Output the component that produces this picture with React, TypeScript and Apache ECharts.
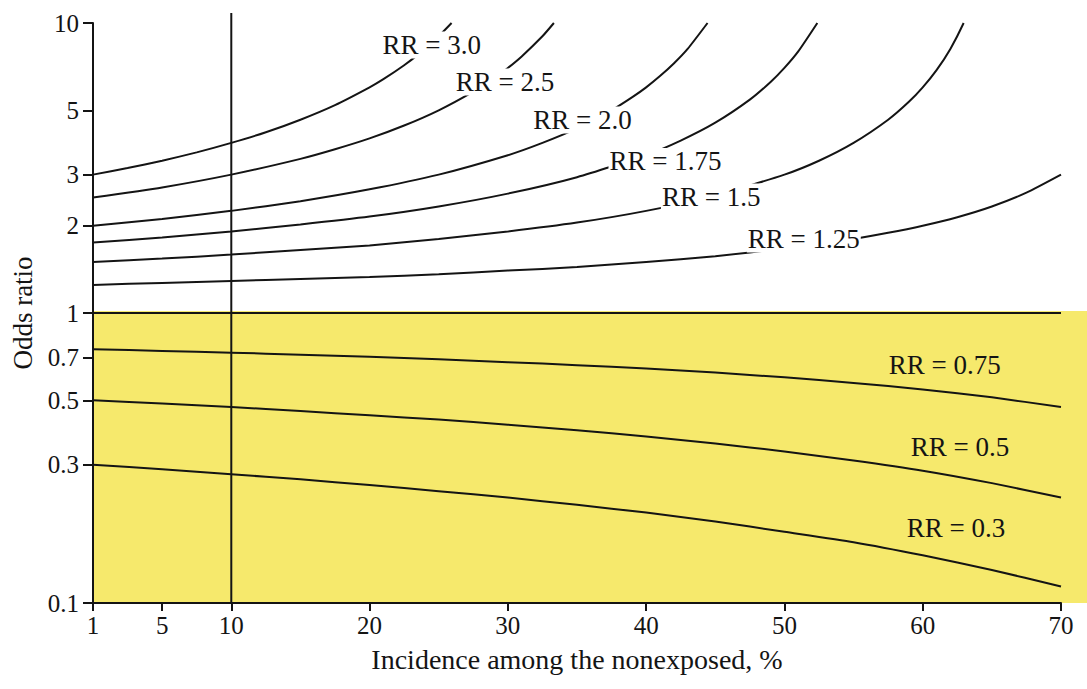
import React, { useEffect, useRef } from 'react';
import * as echarts from 'echarts';

// Axis ticks
const xTickValues = [0, 5, 10, 20, 30, 40, 50, 60, 70];
const xTickLabels = ['1', '5', '10', '20', '30', '40', '50', '60', '70'];
const yTickValues = [0.1, 0.3, 0.5, 0.7, 1, 2, 3, 5, 10];

// Curves (incidence %, odds ratio)
const rr300X = [0, 2.5, 5, 7.5, 10, 12.5, 15, 17.5, 20, 21, 22.5, 23.5, 24.5, 25, 25.93];
const rr300Y = [3.0, 3.16, 3.35, 3.58, 3.86, 4.2, 4.64, 5.21, 6.0, 6.4, 7.15, 7.78, 8.55, 9.0, 10];

const rr250X = [0, 5, 10, 15, 17.5, 20, 22.5, 25, 27.5, 29, 30, 31, 32.5, 33.33];
const rr250Y = [2.5, 2.71, 3.0, 3.4, 3.67, 4.0, 4.43, 5.0, 5.8, 6.46, 7.0, 7.67, 9.0, 10];

const rr200X = [0, 5, 10, 15, 20, 25, 30, 32.5, 35, 37.5, 39, 40, 41, 42, 43, 44.44];
const rr200Y = [2.0, 2.11, 2.25, 2.43, 2.67, 3.0, 3.5, 3.86, 4.33, 5.0, 5.55, 6.0, 6.56, 7.25, 8.14, 10];

const rr175X = [0, 5, 10, 15, 20, 25, 30, 35, 40, 42.5, 45, 47.5, 49, 50, 51, 52.38];
const rr175Y = [1.75, 1.82, 1.91, 2.02, 2.15, 2.33, 2.58, 2.94, 3.5, 3.93, 4.53, 5.44, 6.26, 7.0, 7.98, 10];

const rr150X = [0, 5, 10, 15, 20, 25, 30, 35, 40, 45, 50, 52.5, 55, 57.5, 59, 60, 61, 62, 62.96];
const rr150Y = [1.5, 1.54, 1.59, 1.65, 1.71, 1.8, 1.91, 2.05, 2.25, 2.54, 3.0, 3.35, 3.86, 4.64, 5.35, 6.0, 6.88, 8.14, 10];

const rr125X = [0, 5, 10, 15, 20, 25, 30, 35, 40, 45, 50, 52.5, 55, 57.5, 60, 62.5, 65, 67.5, 70];
const rr125Y = [1.25, 1.27, 1.29, 1.31, 1.33, 1.36, 1.4, 1.44, 1.5, 1.57, 1.67, 1.73, 1.8, 1.89, 2.0, 2.14, 2.33, 2.6, 3.0];

const lowX = [0, 5, 10, 15, 20, 25, 30, 35, 40, 45, 50, 55, 60, 65, 70];
const rr075Y = [0.75, 0.74, 0.73, 0.718, 0.706, 0.692, 0.677, 0.661, 0.643, 0.623, 0.6, 0.574, 0.545, 0.512, 0.474];
const rr050Y = [0.5, 0.487, 0.474, 0.459, 0.444, 0.429, 0.412, 0.394, 0.375, 0.355, 0.333, 0.31, 0.286, 0.259, 0.231];
const rr030Y = [0.3, 0.289, 0.278, 0.267, 0.255, 0.243, 0.231, 0.218, 0.205, 0.191, 0.176, 0.162, 0.146, 0.13, 0.114];

const nullLineX = [0, 70];
const nullLineY = [1, 1];
const refLineX = 10;

// Curve labels
const labelNames = ['RR = 3.0', 'RR = 2.5', 'RR = 2.0', 'RR = 1.75', 'RR = 1.5', 'RR = 1.25', 'RR = 0.75', 'RR = 0.5', 'RR = 0.3'];
const labelX = [24.5, 29.8, 35.4, 41.4, 44.7, 51.4, 61.6, 62.7, 62.4];
const labelY = [8.4, 6.26, 4.63, 3.33, 2.51, 1.8, 0.662, 0.345, 0.181];

const curves = [
  { x: rr300X, y: rr300Y },
  { x: rr250X, y: rr250Y },
  { x: rr200X, y: rr200Y },
  { x: rr175X, y: rr175Y },
  { x: rr150X, y: rr150Y },
  { x: rr125X, y: rr125Y },
  { x: lowX, y: rr075Y },
  { x: lowX, y: rr050Y },
  { x: lowX, y: rr030Y },
  { x: nullLineX, y: nullLineY },
];

export default function App() {
  const ref = useRef<HTMLDivElement>(null);
  useEffect(() => {
    const chart = echarts.init(ref.current!, null, { renderer: 'svg' });
    const font = '"Liberation Serif", "Times New Roman", serif';
    const ink = '#141414';

    const lineSeries = curves.map((c) => ({
      type: 'line',
      data: c.x.map((x, i) => [x, c.y[i]]),
      symbol: 'none',
      showSymbol: false,
      smooth: 0.2,
      silent: true,
      lineStyle: { color: ink, width: 2 },
      z: 3,
    }));

    const option: any = {
      animation: false,
      backgroundColor: '#ffffff',
      grid: { left: 93, right: 26, top: 23, bottom: 86, containLabel: false, outerBoundsMode: 'none' },
      xAxis: {
        type: 'value',
        min: 0,
        max: 70,
        name: 'Incidence among the nonexposed, %',
        nameLocation: 'middle',
        nameGap: 42,
        nameTextStyle: { fontFamily: font, fontSize: 28, color: ink },
        axisLine: { onZero: false, lineStyle: { color: ink, width: 2 } },
        axisTick: { show: true, length: 8, lineStyle: { color: ink, width: 2 }, customValues: xTickValues },
        axisLabel: {
          customValues: xTickValues,
          margin: 10,
          fontFamily: font,
          fontSize: 25,
          color: ink,
          formatter: (v: number) => xTickLabels[xTickValues.indexOf(v)] ?? String(v),
        },
        splitLine: { show: false },
      },
      yAxis: {
        type: 'log',
        logBase: 10,
        min: 0.1,
        max: 10,
        name: 'Odds ratio',
        nameLocation: 'middle',
        nameRotate: 90,
        nameGap: 42,
        nameTextStyle: { fontFamily: font, fontSize: 27, color: ink },
        axisLine: { onZero: false, lineStyle: { color: ink, width: 2 } },
        axisTick: { show: true, length: 10, lineStyle: { color: ink, width: 2 }, customValues: yTickValues },
        axisLabel: {
          customValues: yTickValues,
          margin: 14,
          fontFamily: font,
          fontSize: 25,
          color: ink,
          formatter: (v: number) => String(v),
        },
        splitLine: { show: false },
        minorSplitLine: { show: false },
      },
      series: lineSeries,
    };
    chart.setOption(option);

    const toPx = (x: number, y: number) => chart.convertToPixel({ gridIndex: 0 }, [x, y]) as number[];
    const pOne = toPx(0, 1);
    const pBottom = toPx(refLineX, 0.1);
    const pTop = toPx(refLineX, 10);
    const width = chart.getWidth();

    const labelGraphics = labelNames.map((n, i) => {
      const p = toPx(labelX[i], labelY[i]);
      return {
        type: 'text',
        z: 10,
        silent: true,
        x: p[0],
        y: p[1],
        style: {
          text: n,
          fill: ink,
          font: `27px ${font}`,
          align: 'center',
          verticalAlign: 'middle',
          backgroundColor: labelY[i] > 1 ? '#ffffff' : undefined,
          padding: [0, 1],
        },
      };
    });

    chart.setOption({
      graphic: [
        {
          type: 'rect',
          z: -1,
          silent: true,
          shape: { x: pOne[0], y: pOne[1] - 2, width: width - pOne[0], height: pBottom[1] - pOne[1] + 2 },
          style: { fill: '#F6E96C' },
        },
        {
          type: 'line',
          z: 4,
          silent: true,
          shape: { x1: pBottom[0], y1: pBottom[1], x2: pTop[0], y2: pTop[1] - 10 },
          style: { stroke: ink, lineWidth: 2 },
        },
        ...labelGraphics,
      ],
    });

    return () => chart.dispose();
  }, []);
  return <div ref={ref} style={{ position: 'absolute', left: 0, top: 0, width: 1087, height: 689 }} />;
}
